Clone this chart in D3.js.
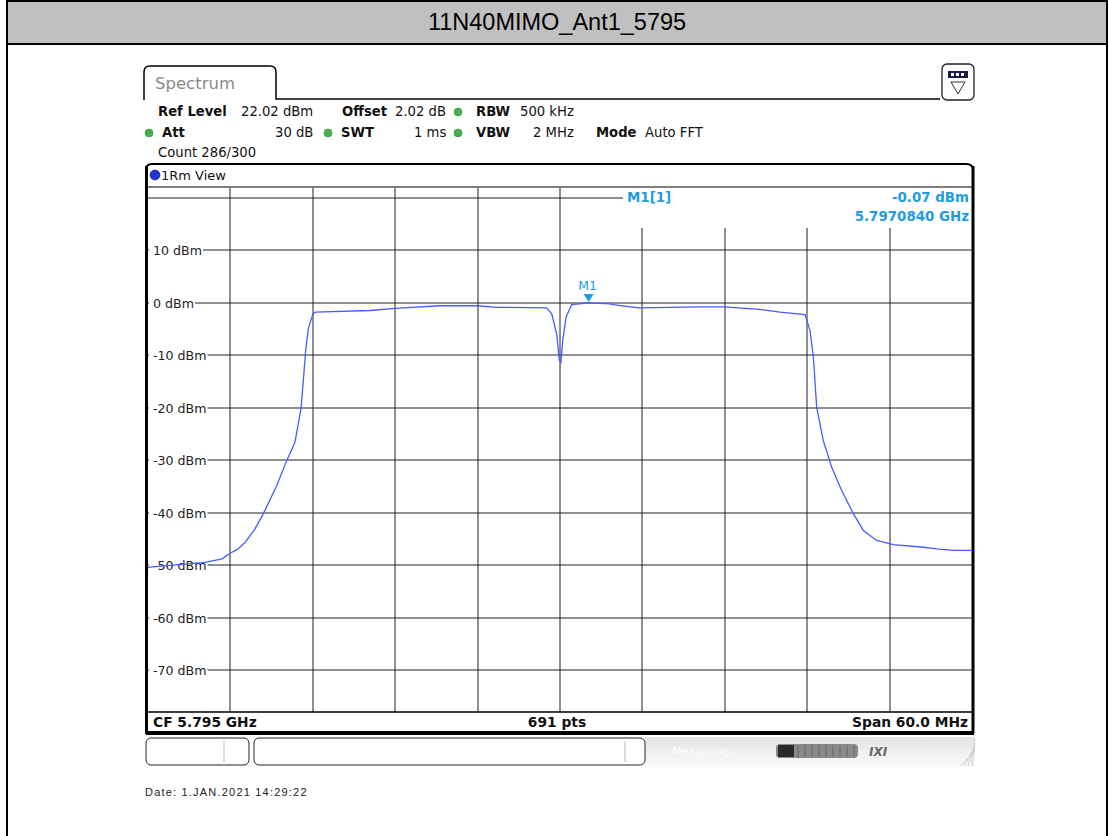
<!DOCTYPE html>
<html><head><meta charset="utf-8">
<script src="https://cdn.jsdelivr.net/npm/d3@7"></script>
<style>html,body{margin:0;padding:0;background:#fff;}svg{display:block;}</style>
</head><body>
<svg id="c" width="1108" height="836"></svg>
<script>
// ---- data ----
const chartTitle = "11N40MIMO_Ant1_5795";
const freqMHz = [5765.0,5765.15,5769.15,5770.4,5771.0,5771.46,5772.06,5772.79,5773.4,5774.37,5775.1,5775.7,5776.14,5776.31,5776.48,5776.67,5776.99,5777.04,5777.2,5781.17,5782.99,5786.26,5788.94,5790.39,5794.03,5794.4,5794.76,5794.95,5795.07,5795.2,5795.44,5795.85,5797.08,5798.64,5798.88,5800.1,5800.83,5805.19,5806.94,5809.56,5811.02,5812.84,5813.2,5813.45,5813.69,5814.17,5814.79,5815.51,5816.36,5817.09,5818.06,5819.27,5821.46,5822.43,5823.64,5825.0];
const levelDbm = [-50.5,-50.4,-49.5,-48.8,-47.7,-47.1,-45.7,-43.1,-40.2,-34.9,-30.1,-26.6,-20.2,-14.9,-9.1,-5.0,-2.3,-2.1,-1.8,-1.5,-1.1,-0.6,-0.6,-0.9,-1.0,-2.2,-6.0,-11.0,-11.4,-7.2,-2.8,-0.4,-0.07,-0.25,-0.4,-0.8,-1.0,-0.8,-0.8,-1.3,-1.8,-2.3,-5.3,-10.4,-19.9,-26.3,-31.4,-35.8,-40.2,-43.4,-45.3,-46.1,-46.6,-46.9,-47.2,-47.2];
const yTickValues = [10,0,-10,-20,-30,-40,-50,-60,-70];
const yTickLabels = ["10 dBm","0 dBm","-10 dBm","-20 dBm","-30 dBm","-40 dBm","-50 dBm","-60 dBm","-70 dBm"];
const markerFreq = 5797.084, markerLevel = -0.07;
const paramsRow1 = [["Ref Level",true,158],["22.02 dBm",false,241],["Offset",true,342],["2.02 dB",false,395],["RBW",true,476],["500 kHz",false,520]];
const paramsRow2 = [["Att",true,162],["30 dB",false,275],["SWT",true,341],["1 ms",false,414],["VBW",true,476],["2 MHz",false,533],["Mode",true,596],["Auto FFT",false,645]];
const footer = ["CF 5.795 GHz","691 pts","Span 60.0 MHz"];
const dateText = "Date: 1.JAN.2021  14:29:22";

// ---- drawing ----
const svg = d3.select("#c");
const F = "'DejaVu Sans', Verdana, sans-serif";
const x = d3.scaleLinear().domain([5765, 5825]).range([148, 972]);
const y = d3.scaleLinear().domain([-77.98, 22.02]).range([712, 187]);

// outer frame + title
svg.append("rect").attr("x",7).attr("y",1).attr("width",1099).attr("height",42).attr("fill","#c0c0c0");
svg.append("line").attr("x1",7).attr("x2",1107).attr("y1",44).attr("y2",44).attr("stroke","#000").attr("stroke-width",2);
svg.append("line").attr("x1",7).attr("x2",1107).attr("y1",1).attr("y2",1).attr("stroke","#000").attr("stroke-width",2);
svg.append("line").attr("x1",7).attr("x2",7).attr("y1",0).attr("y2",836).attr("stroke","#000").attr("stroke-width",2);
svg.append("line").attr("x1",1107).attr("x2",1107).attr("y1",0).attr("y2",836).attr("stroke","#000").attr("stroke-width",2);
svg.append("text").attr("x",557).attr("y",30).attr("text-anchor","middle").attr("font-family","'Liberation Sans', Arial, sans-serif").attr("font-size",23.5).attr("fill","#000").text(chartTitle);

// Spectrum tab
svg.append("path").attr("d","M144,100 L144,72 Q144,66 150,66 L270,66 Q276,66 276,72 L276,99 L940,99").attr("fill","none").attr("stroke","#000").attr("stroke-width",1.5);
svg.append("text").attr("x",155).attr("y",89).attr("font-family",F).attr("font-size",16.5).attr("fill","#8a8a8a").text("Spectrum");
// icon box
svg.append("rect").attr("x",942).attr("y",64).attr("width",32).attr("height",36).attr("rx",5).attr("fill","#fff").attr("stroke","#222").attr("stroke-width",1.3);
svg.append("rect").attr("x",948).attr("y",71).attr("width",20).attr("height",7).attr("fill","#1a1a4a");
[951,956,961].forEach(v=>svg.append("rect").attr("x",v).attr("y",73).attr("width",3).attr("height",3).attr("fill","#fff"));
svg.append("path").attr("d","M951,82 L965,82 L958,94 Z").attr("fill","none").attr("stroke","#333").attr("stroke-width",1);

// parameters
const PF = 13.2;
function dot(cx, cy){ svg.append("circle").attr("cx",cx).attr("cy",cy).attr("r",4).attr("fill","#47b04b").attr("stroke","#2f8a33").attr("stroke-width",0.5); }
paramsRow1.forEach(p=>svg.append("text").attr("x",p[2]).attr("y",116).attr("font-family",F).attr("font-size",PF).attr("font-weight",p[1]?"bold":"normal").attr("fill","#111").text(p[0]));
paramsRow2.forEach(p=>svg.append("text").attr("x",p[2]).attr("y",137).attr("font-family",F).attr("font-size",PF).attr("font-weight",p[1]?"bold":"normal").attr("fill","#111").text(p[0]));
dot(458,112); dot(149,133); dot(328,133); dot(458,133);
svg.append("text").attr("x",158).attr("y",157).attr("font-family",F).attr("font-size",PF).attr("fill","#111").text("Count 286/300");

// diagram frame
svg.append("path").attr("d","M146,733 L146,170 Q146,164 152,164 L966,164 Q973,164 973,170 L973,733 Z").attr("fill","#fff").attr("stroke","#000").attr("stroke-width",2);
svg.append("line").attr("x1",146.5).attr("x2",146.5).attr("y1",166).attr("y2",733).attr("stroke","#000").attr("stroke-width",3);
svg.append("line").attr("x1",973).attr("x2",973).attr("y1",166).attr("y2",733).attr("stroke","#000").attr("stroke-width",3);
svg.append("line").attr("x1",146).attr("x2",974).attr("y1",733).attr("y2",733).attr("stroke","#000").attr("stroke-width",4);
svg.append("circle").attr("cx",155).attr("cy",175).attr("r",5).attr("fill","#2233d0").attr("stroke","#0a1580").attr("stroke-width",0.6);
svg.append("text").attr("x",161).attr("y",179.5).attr("font-family",F).attr("font-size",13).attr("fill","#111").text("1Rm View");
svg.append("line").attr("x1",148).attr("x2",972).attr("y1",187).attr("y2",187).attr("stroke","#000").attr("stroke-width",1.2);

// grid
const g = svg.append("g");
const xt = d3.range(5771, 5820, 6);
xt.forEach(f=>{
  const px = Math.round(x(f));
  g.append("line").attr("x1",px).attr("x2",px).attr("y1",px<622?187:228).attr("y2",712).attr("stroke","#6a6a6a").attr("stroke-width",1.5);
});
g.append("line").attr("x1",148).attr("x2",623).attr("y1",Math.round(y(20))).attr("y2",Math.round(y(20))).attr("stroke","#222").attr("stroke-width",1.2);
yTickValues.forEach(v=>{
  const py = Math.round(y(v));
  g.append("line").attr("x1",148).attr("x2",972).attr("y1",py).attr("y2",py).attr("stroke","#222").attr("stroke-width",1.2);
});
yTickValues.forEach((v,i)=>{
  const py = Math.round(y(v));
  const t = g.append("text").attr("x",153).attr("y",py+5).attr("font-family",F).attr("font-size",12.6).attr("fill","#222").text(yTickLabels[i]);
  const w = t.node().getComputedTextLength();
  g.insert("rect","text").attr("x",149).attr("y",py-8).attr("width",w+5).attr("height",16).attr("fill","#fff");
});

// trace
const line = d3.line().x((d,i)=>x(freqMHz[i])).y(d=>y(d));
svg.append("path").datum(levelDbm).attr("d",line).attr("fill","none").attr("stroke","#4a5cff").attr("stroke-width",1.3);

// marker
const mx = x(markerFreq), my = y(markerLevel);
svg.append("path").attr("d",`M${mx-5},${my-9} L${mx+5},${my-9} L${mx},${my-1} Z`).attr("fill","#1f9ce6");
svg.append("text").attr("x",mx-1).attr("y",my-13).attr("text-anchor","middle").attr("font-family",F).attr("font-size",12.5).attr("fill","#1f9ce6").text("M1");
const MF = 13.4;
svg.append("text").attr("x",627).attr("y",202).attr("font-family",F).attr("font-size",MF).attr("font-weight","bold").attr("fill","#1f9ce6").text("M1[1]");
svg.append("text").attr("x",969).attr("y",202).attr("text-anchor","end").attr("font-family",F).attr("font-size",MF).attr("font-weight","bold").attr("fill","#1f9ce6").text(markerLevel.toFixed(2)+" dBm");
svg.append("text").attr("x",969).attr("y",221).attr("text-anchor","end").attr("font-family",F).attr("font-size",MF).attr("font-weight","bold").attr("fill","#1f9ce6").text((markerFreq/1000).toFixed(7)+" GHz");

// footer of diagram
svg.append("line").attr("x1",148).attr("x2",972).attr("y1",712).attr("y2",712).attr("stroke","#000").attr("stroke-width",1.5);
const FF = 13.8;
svg.append("text").attr("x",153).attr("y",727).attr("font-family",F).attr("font-size",FF).attr("font-weight","bold").attr("fill","#111").text(footer[0]);
svg.append("text").attr("x",557).attr("y",727).attr("text-anchor","middle").attr("font-family",F).attr("font-size",FF).attr("font-weight","bold").attr("fill","#111").text(footer[1]);
svg.append("text").attr("x",968).attr("y",727).attr("text-anchor","end").attr("font-family",F).attr("font-size",FF).attr("font-weight","bold").attr("fill","#111").text(footer[2]);

// status bar
const defs = svg.append("defs");
const gr = defs.append("linearGradient").attr("id","sg").attr("x1",0).attr("x2",0).attr("y1",0).attr("y2",1);
gr.append("stop").attr("offset","0%").attr("stop-color","#e4e4e4");
gr.append("stop").attr("offset","100%").attr("stop-color","#fafafa");
svg.append("rect").attr("x",645).attr("y",737).attr("width",330).attr("height",30).attr("fill","url(#sg)");
svg.append("rect").attr("x",146).attr("y",738).attr("width",103).attr("height",27).attr("rx",5).attr("fill","#fff").attr("stroke","#222").attr("stroke-width",1);
svg.append("line").attr("x1",224).attr("x2",224).attr("y1",741).attr("y2",762).attr("stroke","#bbb");
svg.append("rect").attr("x",254).attr("y",738).attr("width",391).attr("height",27).attr("rx",5).attr("fill","#fff").attr("stroke","#222").attr("stroke-width",1);
svg.append("line").attr("x1",625).attr("x2",625).attr("y1",741).attr("y2",762).attr("stroke","#bbb");
svg.append("text").attr("x",672).attr("y",755).attr("font-family",F).attr("font-size",11).attr("fill","#fff").text("Measuring...");
svg.append("rect").attr("x",776).attr("y",744).attr("width",82).attr("height",14).attr("rx",4).attr("fill","#8a8a8a");
svg.append("rect").attr("x",778).attr("y",745).attr("width",16).attr("height",12).attr("fill","#2a2a2a");
d3.range(798,856,7).forEach(v=>svg.append("line").attr("x1",v).attr("x2",v).attr("y1",745).attr("y2",757).attr("stroke","#666"));
svg.append("text").attr("x",869).attr("y",756).attr("font-family",F).attr("font-size",12).attr("font-weight","bold").attr("font-style","italic").attr("fill","#666").text("IXI");
d3.range(0,4).forEach(i=>svg.append("line").attr("x1",960+i*4).attr("x2",975).attr("y1",766).attr("y2",751-i*4).attr("stroke","#ccc"));

// date
svg.append("text").attr("x",145).attr("y",796).attr("font-family","'Liberation Sans', Arial, sans-serif").attr("font-size",11).attr("letter-spacing",1.2).attr("fill","#222").text(dateText);
</script>
</body></html>
